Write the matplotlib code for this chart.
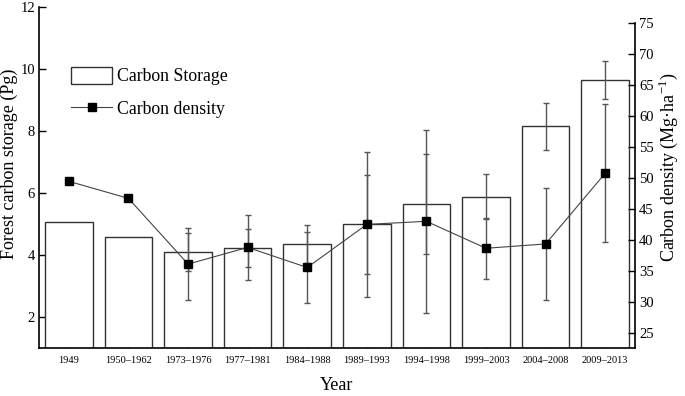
import numpy as np
import matplotlib.pyplot as plt

plt.rcParams['font.family'] = ['Liberation Serif', 'DejaVu Serif']
plt.rcParams['mathtext.fontset'] = 'custom'
plt.rcParams['mathtext.rm'] = 'Liberation Serif'

# data
years = ['1949', '1950\u20131962', '1973\u20131976', '1977\u20131981', '1984\u20131988',
         '1989\u20131993', '1994\u20131998', '1999\u20132003', '2004\u20132008', '2009\u20132013']
storage = [5.07, 4.58, 4.10, 4.24, 4.35, 4.99, 5.64, 5.88, 8.15, 9.65]
storage_err = [np.nan, np.nan, 0.60, 0.61, 0.62, 1.61, 1.61, 0.73, 0.76, 0.60]
density = [49.4, 46.65, 36.05, 38.74, 35.5, 42.45, 42.95, 38.6, 39.3, 50.7]
density_err = [np.nan, np.nan, 5.8, 5.3, 5.65, 11.7, 14.8, 4.95, 9.0, 11.1]

x = np.arange(len(years))

fig = plt.figure(figsize=(6.85, 3.96), dpi=100)
ax = fig.add_axes([0.057, 0.121, 0.870, 0.861])

ax.bar(x, storage, width=0.8, color='white', edgecolor='#333333', linewidth=1.0,
       label='Carbon Storage', zorder=2)
ax.errorbar(x, storage, yerr=storage_err, fmt='none', ecolor='#555555', elinewidth=1.0,
            capsize=2.5, capthick=1.0, zorder=3)
ax.set_xlim(-0.5, 9.5)
ax.set_ylim(1, 12)
ax.set_yticks([2, 4, 6, 8, 10, 12])
ax.set_xticks(x)
ax.set_xticklabels(years, fontsize=7.5)
ax.tick_params(axis='y', direction='in', length=5, width=1, labelsize=10.5, pad=3)
ax.tick_params(axis='x', direction='in', length=5, width=1, pad=6)
ax.spines['top'].set_visible(False)
ax.spines['right'].set_visible(False)
ax.spines['left'].set_linewidth(1.2)
ax.spines['bottom'].set_linewidth(1.2)
ax.set_xlabel('Year', fontsize=13, labelpad=8)
ax.set_ylabel('Forest carbon storage (Pg)', fontsize=13)
ax.yaxis.set_label_coords(-0.036, 0.54)

ax2 = ax.twinx()
ax2.errorbar(x, density, yerr=density_err, fmt='none', ecolor='#555555', elinewidth=1.0,
             capsize=2.5, capthick=1.0, zorder=3)
ax2.plot(x, density, color='#444444', linewidth=0.8, marker='s', markersize=5.5,
         markerfacecolor='black', markeredgecolor='black', label='Carbon density', zorder=4)
ax2.set_ylim(22.5, 77.5)
ax2.set_yticks([25, 30, 35, 40, 45, 50, 55, 60, 65, 70, 75])
ax2.tick_params(axis='y', direction='in', length=5, width=1, labelsize=10.5, pad=3)
ax2.spines['top'].set_visible(False)
ax2.spines['left'].set_visible(False)
ax2.spines['bottom'].set_visible(False)
ax2.spines['right'].set_linewidth(1.2)
ax2.spines['right'].set_bounds(22.5, 75)
ax2.set_ylabel('Carbon density (Mg\u00b7ha$^{\\mathrm{-1}}$)', fontsize=13)
ax2.yaxis.set_label_coords(1.036, 0.53)

h1, l1 = ax.get_legend_handles_labels()
h2, l2 = ax2.get_legend_handles_labels()
ax2.legend(h1 + h2, l1 + l2, loc='upper left', bbox_to_anchor=(0.042, 0.845), frameon=False,
           fontsize=12.8, handlelength=2.3, handleheight=1.05, handletextpad=0.3,
           labelspacing=0.8, borderaxespad=0)

fig.savefig('out.png', dpi=100)
